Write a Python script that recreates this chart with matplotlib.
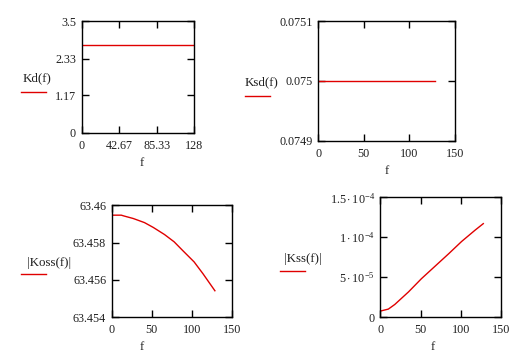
import matplotlib
matplotlib.use('Agg')
import matplotlib.pyplot as plt

plt.rcParams['font.family'] = ['Liberation Serif', 'DejaVu Serif']
plt.rcParams['mathtext.fontset'] = 'custom'
plt.rcParams['mathtext.rm'] = 'Liberation Serif'
plt.rcParams['mathtext.it'] = 'Liberation Serif:italic'

# Kd(f) - constant
f_kd = [0, 128]
kd = [2.75, 2.75]

# Ksd(f) - constant
f_ksd = [0, 128]
ksd = [0.075, 0.075]

# |Koss(f)|
f_koss = [0, 12, 15, 27, 41, 52, 66, 78, 89, 103, 114, 129]
koss = [63.45947, 63.45947, 63.45943, 63.45929, 63.45907, 63.45881,
        63.45843, 63.45804, 63.45756, 63.45696, 63.45633, 63.45541]

# |Kss(f)|  (x1e-5)
f_kss = [0, 10, 18, 26, 35, 51, 68, 85, 101, 118, 128]
kss_e5 = [0.74, 0.99, 1.57, 2.31, 3.14, 4.79, 6.36, 7.93, 9.46, 10.9, 11.7]
kss = [v * 1e-5 for v in kss_e5]

W, H = 526, 353
fig = plt.figure(figsize=(W / 100, H / 100), dpi=100)
txt = '#202020'
red = '#e00000'


def box(x0, x1, ytop, ybot):
    return [x0 / W, 1 - ybot / H, (x1 - x0) / W, (ybot - ytop) / H]


def style(ax, xlim, xticks, xlabels, ylim, yticks, ylabels):
    ax.set_xlim(xlim)
    ax.set_ylim(ylim)
    ax.set_xticks(xticks)
    ax.set_xticklabels(xlabels)
    ax.set_yticks(yticks)
    ax.set_yticklabels(ylabels)
    ax.tick_params(direction='in', length=5, width=1, top=True, right=True,
                   labelsize=8.7, colors='black', labelcolor=txt)
    ax.tick_params(axis='x', pad=5)
    ax.tick_params(axis='y', pad=4)
    for s in ax.spines.values():
        s.set_linewidth(1)
        s.set_color('black')


def legend_label(x, y, text, lx0, lx1, ly):
    fig.text(x / W, 1 - y / H, text, ha='center', va='center',
             fontsize=9.3, color=txt)
    fig.add_artist(plt.Line2D([lx0 / W, lx1 / W], [1 - ly / H, 1 - ly / H],
                              color=red, lw=1))


def flabel(x, y):
    fig.text(x / W, 1 - y / H, 'f', ha='center', va='center',
             fontsize=9.3, color=txt)


# panel 1
ax1 = fig.add_axes(box(81.5, 194.3, 21.3, 132.7))
ax1.plot(f_kd, kd, color=red, lw=1)
style(ax1, (0, 128), [0, 42.67, 85.33, 128], ['0', '42.67', '85.33', '128'],
      (0, 3.5), [0, 1.17, 2.33, 3.5], ['0', '1.17', '2.33', '3.5'])
legend_label(37, 78, 'Kd(f)', 21, 45.7, 91.7)
flabel(142, 163)

# panel 2
ax2 = fig.add_axes(box(318.3, 455, 21.3, 140.7))
ax2.plot(f_ksd, ksd, color=red, lw=1)
style(ax2, (0, 150), [0, 50, 100, 150], ['0', '50', '100', '150'],
      (0.0749, 0.0751), [0.0749, 0.075, 0.0751], ['0.0749', '0.075', '0.0751'])
legend_label(261.5, 82, 'Ksd(f)', 245, 270, 95.7)
flabel(387, 171)

# panel 3
ax3 = fig.add_axes(box(111.7, 231.7, 205.3, 317.0))
ax3.plot(f_koss, koss, color=red, lw=1)
style(ax3, (0, 150), [0, 50, 100, 150], ['0', '50', '100', '150'],
      (63.454, 63.46), [63.454, 63.456, 63.458, 63.46],
      ['63.454', '63.456', '63.458', '63.46'])
legend_label(48.8, 262.7, '|Koss(f)|', 21, 45.7, 274.3)
flabel(142, 347)

# panel 4
ax4 = fig.add_axes(box(380.3, 501, 197.3, 317.0))
ax4.plot(f_kss, kss, color=red, lw=1)
style(ax4, (0, 150), [0, 50, 100, 150], ['0', '50', '100', '150'],
      (0, 1.5e-4), [0, 5e-5, 1e-4, 1.5e-4],
      ['0', r'$5\cdot10^{-5}$', r'$1\cdot10^{-4}$', r'$1.5\cdot10^{-4}$'])
legend_label(303, 258.7, '|Kss(f)|', 280, 305, 271)
flabel(433, 347)

fig.savefig('out.png', dpi=100)
